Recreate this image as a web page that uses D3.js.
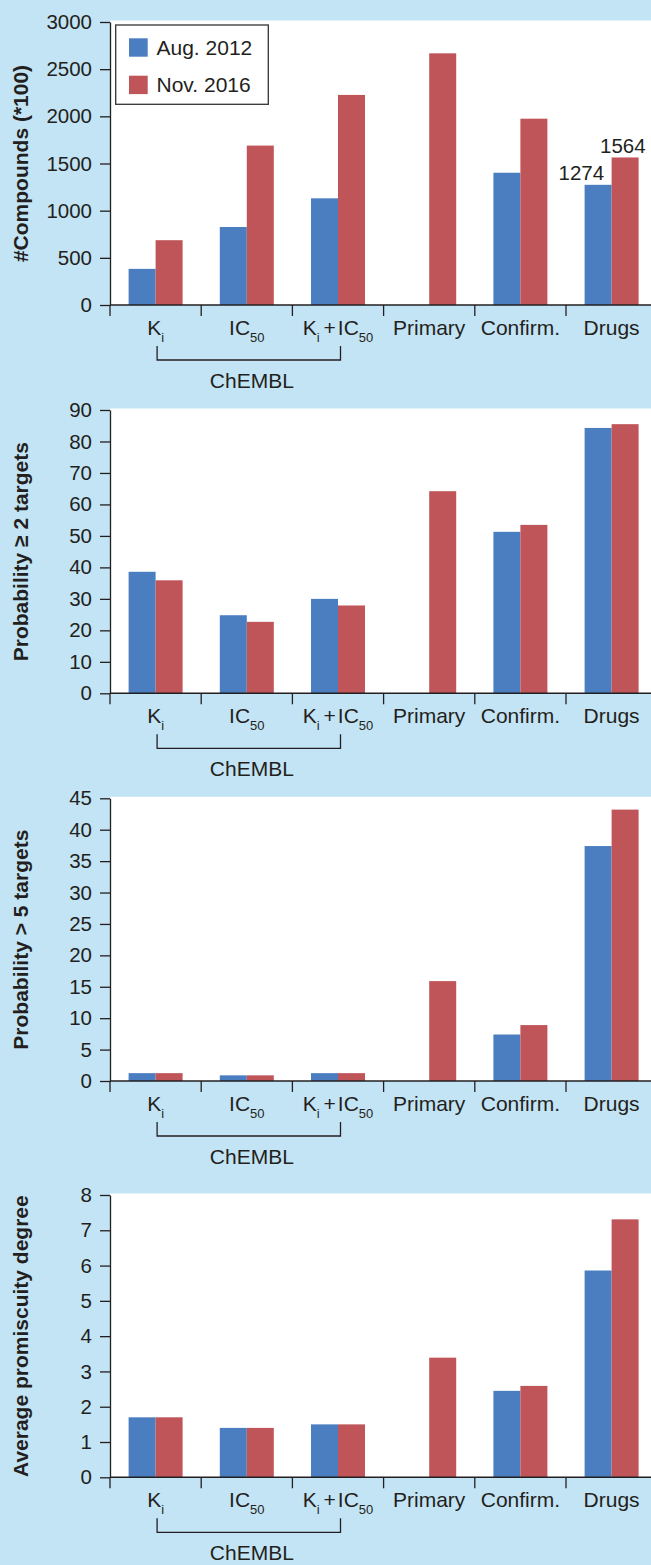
<!DOCTYPE html>
<html><head><meta charset="utf-8">
<script src="https://cdn.jsdelivr.net/npm/d3@7"></script>
<style>html,body{margin:0;padding:0;background:#C3E4F5;} svg{display:block;}</style>
</head><body>
<script>
// ---------- data ----------
const categories = ["Ki", "IC50", "Ki+IC50", "Primary", "Confirm.", "Drugs"];
const series = ["Aug. 2012", "Nov. 2016"];

const compoundsAug = [383, 827, 1131, null, 1402, 1274];
const compoundsNov = [687, 1690, 2227, 2668, 1975, 1564];
const compoundsTicks = [0, 500, 1000, 1500, 2000, 2500, 3000];

const prob2Aug = [38.6, 24.8, 30.0, null, 51.3, 84.3];
const prob2Nov = [35.9, 22.7, 27.9, 64.2, 53.5, 85.5];
const prob2Ticks = [0, 10, 20, 30, 40, 50, 60, 70, 80, 90];

const prob5Aug = [1.25, 0.9, 1.25, null, 7.4, 37.4];
const prob5Nov = [1.25, 0.9, 1.25, 15.9, 8.9, 43.2];
const prob5Ticks = [0, 5, 10, 15, 20, 25, 30, 35, 40, 45];

const degreeAug = [1.7, 1.4, 1.5, null, 2.45, 5.86];
const degreeNov = [1.7, 1.4, 1.5, 3.39, 2.59, 7.31];
const degreeTicks = [0, 1, 2, 3, 4, 5, 6, 7, 8];

const yTitles = ["#Compounds (*100)", "Probability \u2265 2 targets", "Probability > 5 targets", "Average promiscuity degree"];
// category label pieces: [text, isSubscript]
const categoryLabelParts = [
  [["K", 0], ["i", 1]],
  [["IC", 0], ["50", 1]],
  [["K", 0], ["i", 1], ["+", 0], ["IC", 0], ["50", 1]],
  [["Primary", 0]],
  [["Confirm.", 0]],
  [["Drugs", 0]]
];
const groupLabel = "ChEMBL";
const annotatedValues = [{cat: "Drugs", series: "Aug. 2012", value: 1274}, {cat: "Drugs", series: "Nov. 2016", value: 1564}];

// ---------- style ----------
const BG = "#C3E4F5", BLUE = "#4B7EC1", RED = "#BF5559", INK = "#231F20";
const FONT = "'Liberation Sans', Arial, Helvetica, sans-serif";
const W = 651, H = 1565, AX = 110, FS = 21;

const svg = d3.select("body").append("svg").attr("width", W).attr("height", H)
  .style("font-family", FONT);
svg.append("rect").attr("width", W).attr("height", H).attr("fill", BG);

const x = d3.scaleBand().domain(categories).range([AX, AX + 6 * 91.2]);
const xs = d3.scaleBand().domain(series).range([0, x.bandwidth()]).paddingInner(0).paddingOuter(0.689);
const color = d3.scaleOrdinal().domain(series).range([BLUE, RED]);

const panels = [
  {top: 22, bottom: 305, ticks: compoundsTicks, aug: compoundsAug, nov: compoundsNov, title: yTitles[0], legend: true, annot: true},
  {top: 410, bottom: 693.3, ticks: prob2Ticks, aug: prob2Aug, nov: prob2Nov, title: yTitles[1]},
  {top: 798.3, bottom: 1081, ticks: prob5Ticks, aug: prob5Aug, nov: prob5Nov, title: yTitles[2]},
  {top: 1195, bottom: 1477.3, ticks: degreeTicks, aug: degreeAug, nov: degreeNov, title: yTitles[3]}
];

panels.forEach(p => {
  const y = d3.scaleLinear().domain([0, d3.max(p.ticks)]).range([p.bottom, p.top]);
  const g = svg.append("g");
  g.append("rect").attr("x", AX).attr("y", p.top - 1.5).attr("width", W - AX)
    .attr("height", p.bottom - p.top + 1.5).attr("fill", "#fff");

  const rows = [];
  categories.forEach((c, i) => {
    if (p.aug[i] != null) rows.push({c, s: series[0], v: p.aug[i]});
    if (p.nov[i] != null) rows.push({c, s: series[1], v: p.nov[i]});
  });
  g.selectAll("rect.bar").data(rows).enter().append("rect").attr("class", "bar")
    .attr("x", d => x(d.c) + xs(d.s)).attr("width", xs.bandwidth())
    .attr("y", d => y(d.v)).attr("height", d => y(0) - y(d.v))
    .attr("fill", d => color(d.s));

  // y axis
  const ya = g.append("g").attr("transform", `translate(${AX},0)`)
    .call(d3.axisLeft(y).tickValues(p.ticks).tickFormat(d3.format("d"))
      .tickSize(10).tickSizeOuter(0).tickPadding(8));
  ya.attr("font-family", FONT).attr("font-size", 20.5);
  ya.selectAll("path,line").attr("stroke", INK).attr("stroke-width", 1.3);
  ya.selectAll("text").attr("fill", INK);

  // x axis
  g.append("line").attr("x1", AX).attr("x2", W).attr("y1", p.bottom).attr("y2", p.bottom)
    .attr("stroke", INK).attr("stroke-width", 1.4);
  g.selectAll("line.xt").data(categories).enter().append("line").attr("class", "xt")
    .attr("x1", d => x(d)).attr("x2", d => x(d)).attr("y1", p.bottom).attr("y2", p.bottom + 11)
    .attr("stroke", INK).attr("stroke-width", 1.3);

  // category labels
  categories.forEach((c, i) => {
    const t = g.append("text").attr("x", x(c) + x.bandwidth() / 2).attr("y", p.bottom + 30)
      .attr("text-anchor", "middle").attr("fill", INK).attr("font-size", FS);
    let sub = false;
    categoryLabelParts[i].forEach(([txt, s], k) => {
      const ts = t.append("tspan").text(txt).attr("fill", INK);
      if (s && !sub) { ts.attr("dy", 7).attr("font-size", 13); sub = true; }
      else if (!s && sub) { ts.attr("dy", -7); sub = false; }
      else if (s) ts.attr("font-size", 13);
      if (txt === "+") ts.attr("dx", 4);
      if (txt === "IC" && k > 0) ts.attr("dx", 2);
    });
  });

  // ChEMBL bracket
  const bx1 = x("Ki") + x.bandwidth() / 2 + 1.5, bx2 = x("Ki+IC50") + x.bandwidth() / 2 + 2.5;
  const by1 = p.bottom + 41, by2 = p.bottom + 55;
  g.append("path").attr("d", `M${bx1},${by1}V${by2}H${bx2}V${by1}`)
    .attr("fill", "none").attr("stroke", INK).attr("stroke-width", 1.3);
  g.append("text").attr("x", (bx1 + bx2) / 2 + 3).attr("y", p.bottom + 83)
    .attr("text-anchor", "middle").attr("fill", INK).attr("font-size", FS).text(groupLabel);

  // y title
  g.append("text").attr("transform", `translate(28,${(p.top + p.bottom) / 2}) rotate(-90)`)
    .attr("text-anchor", "middle").attr("font-weight", "bold").attr("font-size", 21)
    .attr("fill", INK).text(p.title);

  if (p.legend) {
    const lg = g.append("g");
    lg.append("rect").attr("x", 115.7).attr("y", 25).attr("width", 152.6).attr("height", 79.3)
      .attr("fill", "#fff").attr("stroke", "#333").attr("stroke-width", 1.3);
    series.forEach((s, i) => {
      lg.append("rect").attr("x", 129).attr("y", 38.3 + i * 37.4).attr("width", 18.7).attr("height", 18.4)
        .attr("fill", color(s));
      lg.append("text").attr("x", 156.5).attr("y", 54.5 + i * 37.4).attr("font-size", FS)
        .attr("fill", INK).text(s);
    });
  }
  if (p.annot) {
    annotatedValues.forEach(a => {
      const bx = x(a.cat) + xs(a.series);
      g.append("text").attr("x", a.series === series[0] ? bx + 19.5 : bx + xs.bandwidth() + 7)
        .attr("y", y(a.value) - 4.5).attr("text-anchor", "end").attr("font-size", 20.5)
        .attr("fill", INK).text(a.value);
    });
  }
});
</script>
</body></html>
